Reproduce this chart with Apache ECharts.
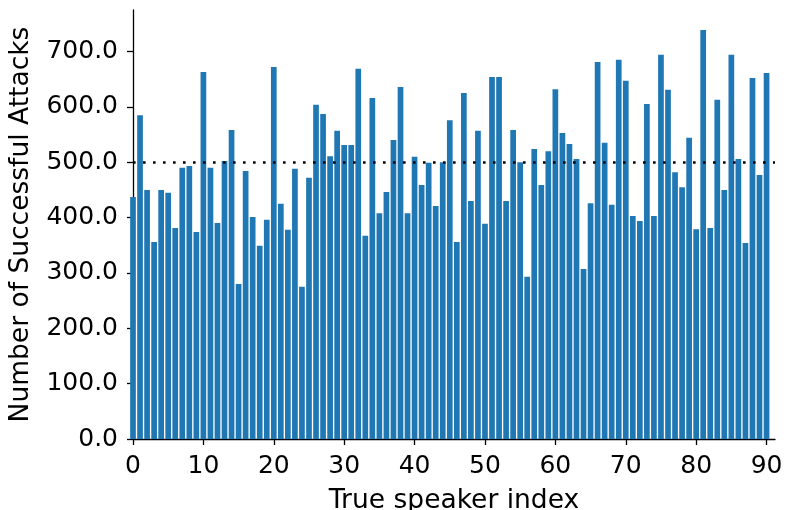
<!DOCTYPE html>
<html>
<head>
<meta charset="utf-8">
<script src="https://cdn.jsdelivr.net/npm/echarts@6/dist/echarts.min.js"></script>
<style>
  html, body { margin: 0; padding: 0; background: #fff; }
  #chart { width: 788px; height: 510px; }
</style>
</head>
<body>
<div id="chart"></div>
<script>
// Successful attacks per true speaker (index 0..90)
const speakerIndex = Array.from({ length: 91 }, (_, i) => i);
const successfulAttacks = [
  437, 585, 450, 356, 450, 445, 381, 490, 493, 374,
  663, 490, 390, 502, 558, 280, 484, 401, 349, 396,
  672, 425, 378, 488, 275, 472, 604, 587, 511, 557,
  531, 531, 669, 367, 616, 408, 446, 540, 636, 408,
  510, 459, 499, 421, 500, 576, 356, 625, 430, 557,
  389, 654, 654, 430, 558, 500, 293, 524, 459, 520,
  632, 553, 533, 506, 307, 426, 681, 535, 423, 685,
  647, 403, 394, 605, 403, 694, 631, 482, 455, 544,
  379, 739, 381, 613, 450, 694, 506, 354, 652, 477,
  661
];
const thresholdValue = 500;
const xTicks = [0, 10, 20, 30, 40, 50, 60, 70, 80, 90];

const chart = echarts.init(document.getElementById('chart'), null, { renderer: 'canvas' });

const font = 'DejaVu Sans';

chart.setOption({
  animation: false,
  backgroundColor: '#ffffff',
  grid: {
    left: 133, right: 13, top: 10, bottom: 71,
    containLabel: false, outerBoundsMode: 'none'
  },
  xAxis: {
    type: 'value',
    min: 0,
    max: 91.2,
    interval: 10,
    name: 'True speaker index',
    nameLocation: 'middle',
    nameGap: 49,
    nameTextStyle: { fontFamily: font, fontSize: 26.5, color: '#000' },
    axisLine: { show: true, lineStyle: { color: '#000', width: 1.3 } },
    axisTick: { show: true, length: 6, inside: false, lineStyle: { color: '#000', width: 1.3 } },
    axisLabel: {
      fontFamily: font, fontSize: 25, color: '#000', margin: 15,
      showMaxLabel: false,
      formatter: v => (xTicks.includes(v) ? String(v) : '')
    },
    splitLine: { show: false }
  },
  yAxis: {
    type: 'value',
    min: 0,
    max: 775,
    interval: 100,
    name: 'Number of Successful Attacks',
    nameLocation: 'middle',
    nameGap: 98,
    nameRotate: 90,
    nameTextStyle: { fontFamily: font, fontSize: 26.5, color: '#000' },
    axisLine: { show: true, lineStyle: { color: '#000', width: 1.3 } },
    axisTick: { show: true, length: 6, inside: false, lineStyle: { color: '#000', width: 1.3 } },
    axisLabel: {
      fontFamily: font, fontSize: 25, color: '#000', margin: 15,
      showMaxLabel: false,
      formatter: v => v.toFixed(1)
    },
    splitLine: { show: false }
  },
  series: [
    {
      type: 'bar',
      data: speakerIndex.map((x, i) => [x, successfulAttacks[i]]),
      barWidth: 5.7,
      clip: true,
      itemStyle: { color: '#1f77b4' },
      markLine: {
        silent: true,
        symbol: 'none',
        label: { show: false },
        lineStyle: { color: '#000', width: 2.6, type: [2.6, 7.4] },
        data: [[
          { coord: [0, thresholdValue] },
          { coord: [91.2, thresholdValue] }
        ]]
      }
    }
  ]
});
</script>
</body>
</html>
